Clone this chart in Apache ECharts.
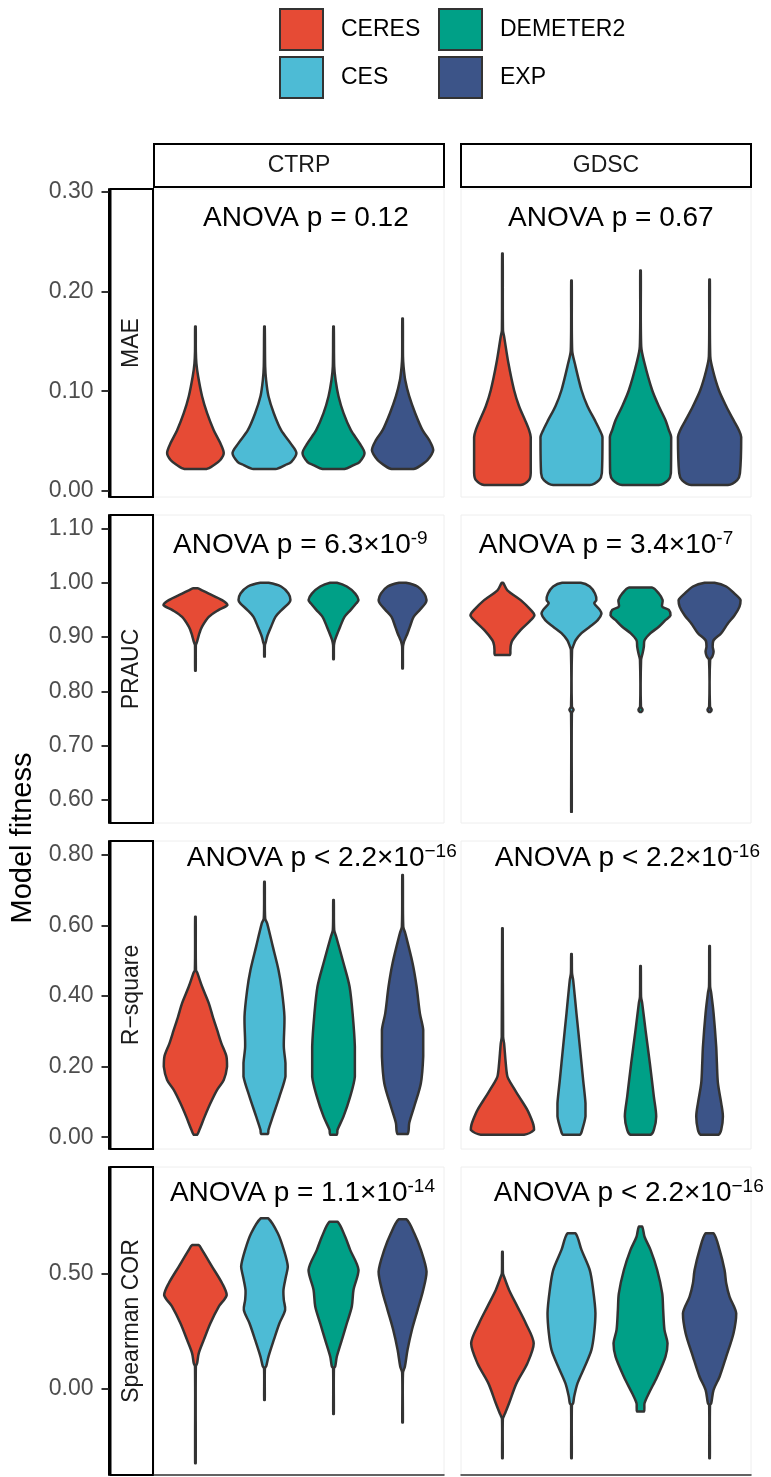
<!DOCTYPE html>
<html>
<head>
<meta charset="utf-8">
<script src="https://cdn.jsdelivr.net/npm/echarts@6/dist/echarts.min.js"></script>
<style>
  html, body { margin: 0; padding: 0; background: #fff; }
  #chart { width: 771px; height: 1477px; }
</style>
</head>
<body>
<div id="chart"></div>
<script>
// categories
var methods = ["CERES", "CES", "DEMETER2", "EXP"];
var datasets = ["CTRP", "GDSC"];
var metrics = ["MAE", "PRAUC", "R\u2212square", "Spearman COR"];

// tick labels per row
var ticksMAE = [0, 0.1, 0.2, 0.3];
var ticksPRAUC = [0.6, 0.7, 0.8, 0.9, 1.0, 1.1];
var ticksRsq = [0, 0.2, 0.4, 0.6, 0.8];
var ticksSpear = [0, 0.5];

// violin outlines, one per method: [value, half width in category units], bottom to top
var maeCTRP = [
  [[0.022,0.16],[0.026,0.27],[0.031,0.36],[0.038,0.41],[0.048,0.36],[0.061,0.265],[0.078,0.169],[0.095,0.096],[0.115,0.039],[0.128,0.014],[0.140,0.006],[0.165,0.004]],
  [[0.022,0.159],[0.026,0.30],[0.029,0.386],[0.038,0.463],[0.048,0.376],[0.061,0.241],[0.078,0.135],[0.095,0.058],[0.111,0.024],[0.125,0.010],[0.165,0.004]],
  [[0.022,0.159],[0.026,0.29],[0.029,0.376],[0.038,0.449],[0.048,0.376],[0.061,0.251],[0.078,0.145],[0.095,0.072],[0.111,0.030],[0.125,0.010],[0.165,0.004]],
  [[0.022,0.159],[0.026,0.27],[0.031,0.362],[0.041,0.444],[0.051,0.386],[0.061,0.289],[0.078,0.183],[0.095,0.096],[0.111,0.039],[0.125,0.014],[0.135,0.006],[0.173,0.004]]
];
var maeGDSC = [
  [[0.006,0.265],[0.011,0.385],[0.018,0.41],[0.054,0.41],[0.061,0.386],[0.071,0.328],[0.085,0.241],[0.101,0.169],[0.128,0.087],[0.155,0.024],[0.161,0.008],[0.238,0.004]],
  [[0.006,0.265],[0.011,0.40],[0.018,0.44],[0.054,0.449],[0.061,0.41],[0.071,0.338],[0.085,0.232],[0.101,0.145],[0.128,0.048],[0.141,0.010],[0.211,0.004]],
  [[0.006,0.265],[0.011,0.40],[0.018,0.44],[0.054,0.444],[0.061,0.41],[0.071,0.362],[0.085,0.265],[0.101,0.169],[0.128,0.058],[0.145,0.010],[0.221,0.004]],
  [[0.006,0.265],[0.011,0.40],[0.018,0.44],[0.054,0.458],[0.061,0.425],[0.071,0.347],[0.085,0.241],[0.101,0.135],[0.121,0.048],[0.135,0.010],[0.212,0.004]]
];
var praucCTRP = [
  [[0.838,0.004],[0.885,0.006],[0.888,0.014],[0.894,0.029],[0.907,0.058],[0.919,0.096],[0.937,0.193],[0.950,0.338],[0.959,0.463],[0.968,0.386],[0.980,0.193],[0.986,0.096],[0.990,0.030]],
  [[0.864,0.004],[0.885,0.006],[0.891,0.020],[0.901,0.039],[0.919,0.096],[0.937,0.159],[0.950,0.25],[0.962,0.35],[0.968,0.376],[0.980,0.347],[0.993,0.241],[1.000,0.060]],
  [[0.859,0.004],[0.885,0.006],[0.894,0.020],[0.901,0.039],[0.919,0.096],[0.937,0.159],[0.950,0.25],[0.962,0.33],[0.968,0.362],[0.980,0.314],[0.993,0.193],[1.000,0.050]],
  [[0.842,0.004],[0.882,0.006],[0.891,0.020],[0.897,0.039],[0.907,0.072],[0.919,0.106],[0.937,0.16],[0.950,0.25],[0.962,0.33],[0.968,0.347],[0.980,0.314],[0.993,0.217],[1.000,0.050]]
];
var praucGDSC = [
  [[0.867,0.106],[0.876,0.115],[0.885,0.121],[0.894,0.145],[0.913,0.265],[0.931,0.41],[0.940,0.463],[0.950,0.41],[0.968,0.265],[0.986,0.072],[1.000,0.010]],
  [[0.578,0.004],[0.760,0.006],[0.766,0.030],[0.772,0.006],[0.876,0.008],[0.885,0.030],[0.894,0.060],[0.907,0.145],[0.919,0.265],[0.931,0.38],[0.943,0.434],[0.950,0.41],[0.962,0.33],[0.968,0.36],[0.980,0.34],[0.993,0.265],[1.000,0.135]],
  [[0.762,0.010],[0.766,0.030],[0.772,0.006],[0.858,0.008],[0.870,0.030],[0.882,0.048],[0.894,0.058],[0.907,0.145],[0.919,0.265],[0.931,0.36],[0.940,0.434],[0.950,0.41],[0.956,0.314],[0.968,0.32],[0.980,0.265],[0.991,0.170]],
  [[0.762,0.010],[0.766,0.030],[0.772,0.006],[0.858,0.008],[0.864,0.040],[0.873,0.058],[0.882,0.045],[0.894,0.058],[0.907,0.169],[0.925,0.265],[0.940,0.362],[0.956,0.434],[0.968,0.449],[0.980,0.362],[0.993,0.241],[1.000,0.072]]
];
var rsqCTRP = [
  [[0.007,0.024],[0.021,0.058],[0.059,0.135],[0.096,0.217],[0.134,0.314],[0.162,0.41],[0.200,0.458],[0.229,0.449],[0.266,0.376],[0.304,0.314],[0.342,0.251],[0.380,0.193],[0.427,0.096],[0.465,0.029],[0.474,0.008],[0.625,0.004]],
  [[0.009,0.048],[0.021,0.058],[0.059,0.121],[0.115,0.217],[0.172,0.304],[0.210,0.304],[0.257,0.28],[0.342,0.289],[0.417,0.251],[0.474,0.203],[0.540,0.121],[0.606,0.039],[0.620,0.010],[0.724,0.004]],
  [[0.007,0.048],[0.021,0.058],[0.059,0.145],[0.115,0.241],[0.172,0.309],[0.257,0.309],[0.342,0.28],[0.427,0.232],[0.493,0.145],[0.568,0.039],[0.587,0.010],[0.672,0.004]],
  [[0.009,0.072],[0.040,0.096],[0.087,0.169],[0.153,0.265],[0.229,0.299],[0.304,0.299],[0.351,0.251],[0.427,0.203],[0.493,0.145],[0.578,0.039],[0.597,0.010],[0.743,0.004]]
];
var rsqGDSC = [
  [[0.007,0.314],[0.021,0.458],[0.035,0.449],[0.049,0.425],[0.077,0.362],[0.115,0.241],[0.153,0.121],[0.172,0.072],[0.210,0.048],[0.266,0.024],[0.285,0.010],[0.592,0.004]],
  [[0.007,0.121],[0.021,0.155],[0.059,0.203],[0.096,0.203],[0.162,0.169],[0.257,0.121],[0.351,0.072],[0.446,0.024],[0.465,0.008],[0.519,0.004]],
  [[0.007,0.145],[0.021,0.193],[0.059,0.227],[0.115,0.193],[0.210,0.135],[0.304,0.072],[0.380,0.024],[0.398,0.008],[0.485,0.004]],
  [[0.007,0.130],[0.021,0.169],[0.059,0.193],[0.096,0.169],[0.153,0.121],[0.210,0.106],[0.257,0.096],[0.351,0.058],[0.408,0.024],[0.427,0.008],[0.542,0.004]]
];
var spearCTRP = [
  [[-0.321,0.004],[0.097,0.006],[0.111,0.024],[0.154,0.048],[0.212,0.121],[0.284,0.217],[0.356,0.338],[0.406,0.453],[0.457,0.386],[0.529,0.241],[0.601,0.096],[0.622,0.048]],
  [[-0.048,0.004],[0.090,0.006],[0.097,0.024],[0.140,0.058],[0.212,0.135],[0.284,0.217],[0.341,0.299],[0.385,0.28],[0.428,0.275],[0.485,0.31],[0.529,0.338],[0.601,0.28],[0.673,0.193],[0.738,0.053]],
  [[-0.108,0.004],[0.090,0.006],[0.097,0.024],[0.140,0.048],[0.212,0.121],[0.284,0.193],[0.356,0.265],[0.428,0.289],[0.514,0.362],[0.601,0.241],[0.658,0.169],[0.723,0.058]],
  [[-0.145,0.004],[0.070,0.006],[0.097,0.034],[0.169,0.072],[0.255,0.135],[0.341,0.217],[0.428,0.299],[0.507,0.347],[0.601,0.265],[0.673,0.169],[0.733,0.058]]
];
var spearGDSC = [
  [[-0.300,0.004],[-0.130,0.006],[-0.115,0.024],[-0.105,0.039],[-0.062,0.096],[0.024,0.203],[0.111,0.362],[0.197,0.453],[0.284,0.338],[0.356,0.217],[0.428,0.096],[0.485,0.024],[0.500,0.008],[0.593,0.004]],
  [[-0.300,0.004],[-0.070,0.006],[-0.062,0.024],[-0.033,0.039],[0.024,0.087],[0.097,0.193],[0.169,0.289],[0.241,0.328],[0.327,0.347],[0.428,0.314],[0.514,0.265],[0.601,0.145],[0.673,0.058]],
  [[-0.098,0.048],[-0.062,0.058],[-0.019,0.121],[0.053,0.241],[0.140,0.362],[0.197,0.391],[0.255,0.347],[0.341,0.328],[0.413,0.314],[0.514,0.241],[0.601,0.145],[0.658,0.058],[0.702,0.024]],
  [[-0.300,0.004],[-0.070,0.006],[-0.062,0.024],[-0.004,0.058],[0.053,0.145],[0.140,0.241],[0.241,0.347],[0.327,0.386],[0.399,0.289],[0.457,0.241],[0.514,0.217],[0.601,0.145],[0.673,0.058]]
];

// ANOVA annotations: text, exponent, anchor (x in category units, y in data units)
var anovaMain = [
  ["ANOVA p = 0.12", "ANOVA p = 0.67"],
  ["ANOVA p = 6.3\u00d710", "ANOVA p = 3.4\u00d710"],
  ["ANOVA p < 2.2\u00d710", "ANOVA p < 2.2\u00d710"],
  ["ANOVA p = 1.1\u00d710", "ANOVA p < 2.2\u00d710"]
];
var anovaExp = [
  ["", ""],
  ["-9", "-7"],
  ["\u221216", "-16"],
  ["-14", "\u221216"]
];
var anovaX = [[2.60, 2.57], [2.52, 2.50], [2.83, 2.81], [2.55, 2.83]];
var anovaY = [0.2735, 1.069, 0.791, 0.847];

var violins = [[maeCTRP, maeGDSC], [praucCTRP, praucGDSC], [rsqCTRP, rsqGDSC], [spearCTRP, spearGDSC]];
var ticks = [ticksMAE, ticksPRAUC, ticksRsq, ticksSpear];

// layout
var colors = ["#E64B35", "#4DBBD5", "#00A087", "#3C5488"];
var font = "'Liberation Sans', Arial, sans-serif";
var panelLeft = [154, 461], panelWidth = 290;
var panelTop = [189, 515, 841, 1167], panelHeight = 308;
var yRange = [[-0.006, 0.3027], [0.5575, 1.1247], [-0.0334, 0.8394], [-0.372, 0.9594]];

function violinRenderer(profile) {
  return function (params, api) {
    var pos = api.value(0);
    var left = [], right = [];
    for (var i = 0; i < profile.length; i++) {
      left.push(api.coord([pos - profile[i][1], profile[i][0]]));
      right.push(api.coord([pos + profile[i][1], profile[i][0]]));
    }
    var pts = left.concat(right.reverse());
    var x0 = Infinity, y0 = Infinity, x1 = -Infinity, y1 = -Infinity;
    pts.forEach(function (p) {
      x0 = Math.min(x0, p[0]); y0 = Math.min(y0, p[1]);
      x1 = Math.max(x1, p[0]); y1 = Math.max(y1, p[1]);
    });
    return {
      type: "polygon",
      shape: { points: pts, smooth: 0.3, smoothConstraint: [[x0, y0], [x1, y1]] },
      style: { fill: api.visual("color"), stroke: "#333333", lineWidth: 2.5, lineJoin: "round" }
    };
  };
}

function labelRenderer(main, sup) {
  return function (params, api) {
    var p = api.coord([api.value(0), api.value(1)]);
    var txt = "{m|" + main + "}" + (sup ? "{s|" + sup + "}" : "");
    return {
      type: "text",
      x: p[0],
      y: p[1],
      style: {
        text: txt,
        align: "center",
        verticalAlign: "middle",
        rich: {
          m: { fontSize: 28, lineHeight: 32, fontFamily: font, fill: "#000" },
          s: { fontSize: 19, lineHeight: 14, verticalAlign: "top", fontFamily: font, fill: "#000" }
        }
      }
    };
  };
}

var grid = [], xAxis = [], yAxis = [], series = [], graphic = [];

for (var r = 0; r < 4; r++) {
  for (var c = 0; c < 2; c++) {
    var g = r * 2 + c;
    grid.push({
      left: panelLeft[c], top: panelTop[r], width: panelWidth, height: panelHeight,
      show: true, borderColor: "#EEEEEE", borderWidth: 1, backgroundColor: "transparent"
    });
    xAxis.push({
      gridIndex: g, type: "value", min: 0.4, max: 4.6,
      show: r === 3,
      axisLine: { show: true, onZero: false, lineStyle: { color: "#333333", width: 1.5 } },
      axisTick: { show: false }, axisLabel: { show: false }, splitLine: { show: false }
    });
    yAxis.push({
      gridIndex: g, type: "value", min: yRange[r][0], max: yRange[r][1],
      show: c === 0, offset: 45.5,
      axisLine: { show: true, onZero: false, lineStyle: { color: "#000", width: 2 } },
      axisTick: { show: true, length: 7, customValues: ticks[r], lineStyle: { color: "#333333", width: 2 } },
      axisLabel: {
        show: true, customValues: ticks[r], margin: 15, fontSize: 23, color: "#4D4D4D", fontFamily: font,
        formatter: function (v) { return v.toFixed(2); }
      },
      splitLine: { show: false }
    });
    for (var m = 0; m < 4; m++) {
      series.push({
        type: "custom", name: methods[m], xAxisIndex: g, yAxisIndex: g,
        itemStyle: { color: colors[m] },
        renderItem: violinRenderer(violins[r][c][m]),
        data: [[m + 1, 0]],
        silent: true
      });
    }
    series.push({
      type: "custom", name: "anova" + g, xAxisIndex: g, yAxisIndex: g,
      renderItem: labelRenderer(anovaMain[r][c], anovaExp[r][c]),
      data: [[anovaX[r][c], anovaY[r]]],
      silent: true, z: 5
    });
  }
  // row strip
  graphic.push({
    type: "rect", shape: { x: 110.5, y: panelTop[r], width: 42.5, height: panelHeight },
    style: { fill: "#fff", stroke: "#000", lineWidth: 2 }
  });
  graphic.push({
    type: "text", x: 131.75, y: panelTop[r] + panelHeight / 2, rotation: Math.PI / 2,
    style: { text: metrics[r], fontSize: 23, fontFamily: font, fill: "#1A1A1A", align: "center", verticalAlign: "middle" }
  });
}

// column strips
for (var c2 = 0; c2 < 2; c2++) {
  graphic.push({
    type: "rect", shape: { x: panelLeft[c2], y: 144, width: panelWidth, height: 43 },
    style: { fill: "#fff", stroke: "#000", lineWidth: 2 }
  });
  graphic.push({
    type: "text", x: panelLeft[c2] + panelWidth / 2, y: 165.5,
    style: { text: datasets[c2], fontSize: 23, fontFamily: font, fill: "#1A1A1A", align: "center", verticalAlign: "middle" }
  });
}

// y axis title
graphic.push({
  type: "text", x: 23, y: 838, rotation: Math.PI / 2,
  style: { text: "Model fitness", fontSize: 29, fontFamily: font, fill: "#000", align: "center", verticalAlign: "middle" }
});

var legendBase = {
  orient: "vertical", top: 3, itemWidth: 43, itemHeight: 41, itemGap: 5, icon: "rect",
  selectedMode: false,
  itemStyle: { borderColor: "#333333", borderWidth: 2 },
  textStyle: { fontSize: 23, color: "#000", fontFamily: font, padding: [0, 0, 0, 13] }
};

var chart = echarts.init(document.getElementById("chart"), null, { renderer: "canvas" });
chart.setOption({
  animation: false,
  backgroundColor: "#fff",
  textStyle: { fontFamily: font },
  legend: [
    Object.assign({}, legendBase, { left: 274, data: ["CERES", "CES"] }),
    Object.assign({}, legendBase, { left: 433, data: ["DEMETER2", "EXP"] })
  ],
  grid: grid,
  xAxis: xAxis,
  yAxis: yAxis,
  series: series,
  graphic: graphic
});
</script>
</body>
</html>
